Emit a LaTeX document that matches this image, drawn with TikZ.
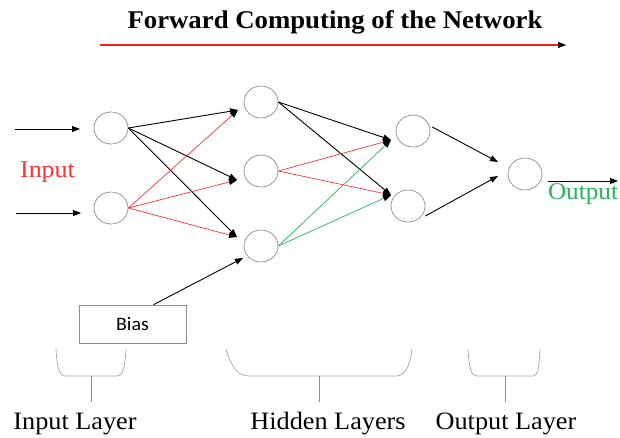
\documentclass[tikz,border=0pt]{standalone}
\usepackage{fontspec}
\setmainfont{Liberation Serif}
\newfontfamily\biasfont{Carlito}
\usetikzlibrary{arrows.meta,shapes.geometric}
\definecolor{myred}{HTML}{FF3333}
\definecolor{titlered}{HTML}{F02020}
\definecolor{mygreen}{HTML}{2DB35B}
\definecolor{mygray}{HTML}{8C8C8C}
\begin{document}
\begin{tikzpicture}[x=1pt,y=-1pt,
  neuron/.style={ellipse,draw=mygray,line width=0.7pt,minimum width=34pt,minimum height=32pt,inner sep=0pt},
  conn/.style={line width=0.9pt,-{Triangle[length=8pt,width=6pt]}},
  redconn/.style={conn,draw=myred,line width=0.7pt,-{Triangle[length=8pt,width=6pt,color=black]}},
  greenconn/.style={conn,draw=mygreen,line width=0.7pt,-{Triangle[length=8pt,width=6pt,color=black]}},
  brace/.style={draw=mygray!80,line width=0.7pt},
  stem/.style={draw=mygray,line width=0.7pt},
  lbl/.style={anchor=base,inner sep=0pt,font=\fontsize{25}{28}\selectfont}
]
\useasboundingbox (0,0) rectangle (620,437);

% title arrow (drawn first)
\coordinate (ta) at (100,45);
\coordinate (tm) at (559,45);
\coordinate (tb) at (566,45);
\fill[titlered] (100,44.3) rectangle (559,45.9);
\draw[black,line width=0.6pt,-{Triangle[length=8pt,width=6pt]}] (tm) -- (tb);

% title
\node[anchor=base,inner sep=0pt,font=\fontsize{25.5}{28}\selectfont\bfseries] (title) at (335,28) {\scalebox{1.05}[1]{Forward Computing of the Network}};

% neurons
\node[neuron] (I1) at (111,128) {};
\node[neuron] (I2) at (111,208) {};
\node[neuron] (H1) at (261,102) {};
\node[neuron] (H2) at (261,171) {};
\node[neuron] (H3) at (261,246) {};
\node[neuron] (O1) at (413,131) {};
\node[neuron] (O2) at (408,206) {};
\node[neuron] (Out) at (525,174) {};

% tip coordinates
\coordinate (t1) at (238,110);
\coordinate (t2) at (237,180);
\coordinate (t3) at (237,237);
\coordinate (u1) at (391,140);
\coordinate (u2) at (391,195);
\coordinate (v1) at (498,162);
\coordinate (v2) at (498,176);

% inputs
\coordinate (in1) at (15,129);
\coordinate (in2) at (16,213);
\draw[conn] (in1) -- (80,129) coordinate (in1e);
\draw[conn] (in2) -- (81,213) coordinate (in2e);
\node[anchor=base,inner sep=0pt,text=myred,font=\fontsize{24}{28}\selectfont] (inlbl) at (47.5,177) {\scalebox{1.08}[1]{Input}};

% input -> hidden
\draw[conn] (I1.east) -- (t1);
\draw[conn] (I1.east) -- (t2);
\draw[conn] (I1.east) -- (t3);
\draw[redconn] (I2.east) -- (t1);
\draw[redconn] (I2.east) -- (t2);
\draw[redconn] (I2.east) -- (t3);

% hidden -> hidden2
\draw[conn] (H1.east) -- (u1);
\draw[conn] (H1.east) -- (u2);
\draw[redconn] (H2.east) -- (u1);
\draw[redconn] (H2.east) -- (u2);
\draw[greenconn] (H3.east) -- (u1);
\draw[greenconn] (H3.east) -- (u2);

% hidden2 -> output
\draw[conn] ([xshift=2pt,yshift=4pt]O1.east) -- (v1);
\draw[conn] ([yshift=-10pt]O2.east) -- (v2);

% output arrow
\coordinate (oa) at (548,181);
\coordinate (ob) at (618,181);
\draw[conn] (oa) -- (ob);
\node[anchor=base,inner sep=0pt,text=mygreen,font=\fontsize{24}{28}\selectfont] (outlbl) at (583,199) {\scalebox{1.05}[1]{Output}};

% bias
\node[draw=mygray,line width=0.7pt,minimum width=107pt,minimum height=38pt,inner sep=0pt,font=\biasfont\fontsize{19}{21}\selectfont] (bias) at (132.5,324) {\scalebox{1.05}[1]{Bias}};
\coordinate (bt) at (243,258);
\draw[conn] ([xshift=21pt]bias.north) -- (bt);

% braces
\draw[brace] (56,349) .. controls (57,367) and (59,376) .. (65,376) -- (117,376) .. controls (123,376) and (125,367) .. (126,349);
\draw[stem] (91,376) -- (91,402);
\draw[brace] (226,349) .. controls (231,366) and (237,376) .. (249,376) -- (396,376) .. controls (405,376) and (410,366) .. (412,349);
\draw[stem] (319,376) -- (319,402);
\draw[brace] (468,349) .. controls (469,367) and (471,376) .. (477,376) -- (533,376) .. controls (538,376) and (539,367) .. (540,349);
\draw[stem] (505,376) -- (505,402);

% layer labels
\node[lbl] (l1) at (75,429) {\scalebox{1.05}[1]{Input Layer}};
\node[lbl] (l2) at (328,429) {\scalebox{1.05}[1]{Hidden Layers}};
\node[lbl] (l3) at (506,429) {\scalebox{1.05}[1]{Output Layer}};
\end{tikzpicture}
\end{document}
